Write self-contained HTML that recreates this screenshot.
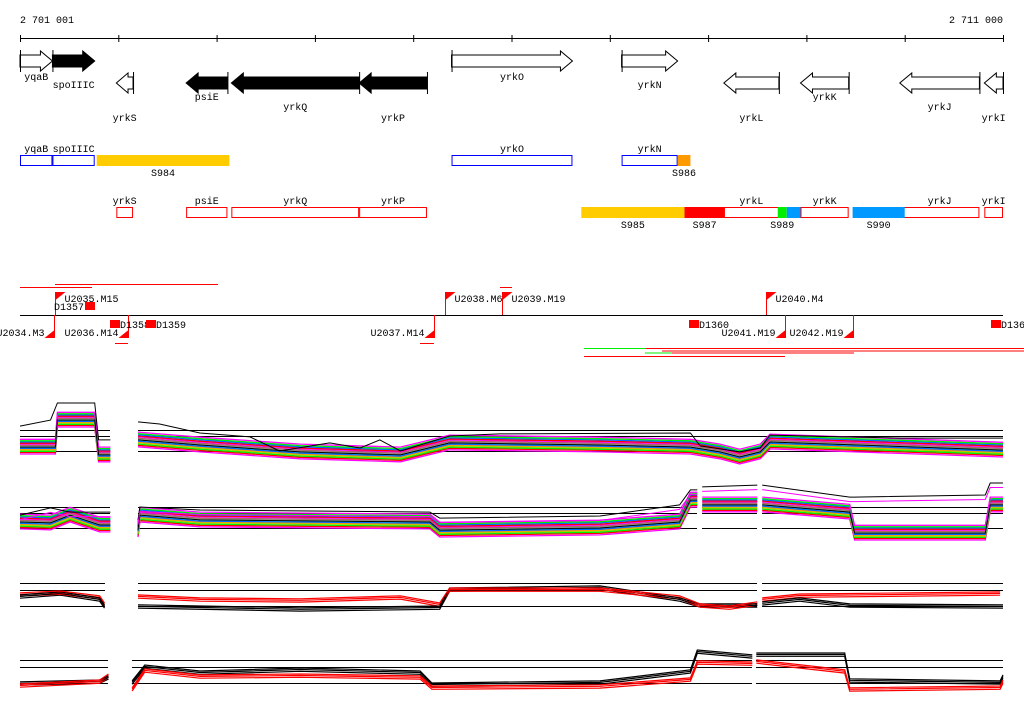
<!DOCTYPE html>
<html><head><meta charset="utf-8">
<style>
html,body{margin:0;padding:0;background:#fff;}
svg{display:block;}
text{font-family:"Liberation Mono","DejaVu Sans Mono",monospace;font-size:10px;fill:#000;}
</style></head>
<body>
<svg id="chart" width="1024" height="714" viewBox="0 0 1024 714" xmlns="http://www.w3.org/2000/svg"></svg>
<script>
// ---- data ----
const rulerTicksKb=[0,1,2,3,4,5,6,7,8,9,10];
const rulerLabels=["2 701 001","2 711 000"];
const geneNames=["yqaB","spoIIIC","yrkS","psiE","yrkQ","yrkP","yrkO","yrkN","yrkL","yrkK","yrkJ","yrkI"];
const geneStart=[0,0.33,0.98,1.69,2.15,3.45,4.39,6.12,7.16,7.94,8.95,9.81];
const geneEnd=[0.33,0.76,1.15,2.11,3.45,4.14,5.62,6.69,7.72,8.43,9.76,10];
const geneStrand=[1,1,-1,-1,-1,-1,1,1,-1,-1,-1,-1];
const geneBlack=[0,1,0,1,1,1,0,0,0,0,0,0];
const geneLabelLevel=[0,1,2,0,1,2,0,1,2,0,1,2];
const segNames=["S984","S986","S985","S987","S989","S990"];
const segStart=[0.78,6.69,5.71,6.76,7.71,8.47];
const segEnd=[2.13,6.82,6.76,7.17,7.80,9.0];
const segRow=[0,0,1,1,1,1];
const segColor=["#ffcc00","#ff9900","#ffcc00","#ff0000","#00ee00","#0099ff"];
const segLabel=[1,1,1,1,1,1];
const seg2Start=[7.80];const seg2End=[7.94];
const upFlagNames=["U2035.M15","U2038.M6","U2039.M19","U2040.M4"];
const upFlagKb=[0.36,4.32,4.9,7.59];
const downFlagNames=["U2034.M3","U2036.M14","U2037.M14","U2041.M19","U2042.M19"];
const downFlagKb=[0.35,1.10,4.21,7.78,8.47];
const dNames=["D1357","D1358","D1359","D1360","D1361"];
const dKb=[0.66,0.92,1.28,6.81,9.88];
const dUp=[1,0,0,0,0];
// line tracks (position kb, signal value; null = gap)
const aCenterKb=[0,0.36,0.38,0.76,0.8,0.92,null,1.2,1.83,2.85,3.87,4.37,5.9,6.82,7.12,7.32,7.53,7.63,10];
const aCenterVal=[1.3,1.3,10.3,10.3,-1.3,-1.3,null,3.7,2,-0.3,-1.3,2.7,2,1.3,-0.3,-2,-0.3,3,0.3];
const aTopKb=[0,0.31,0.38,0.76,0.8,0.92,null,1.2,1.42,1.83,2.34,2.64,3.15,3.46,3.66,3.87,4.37,4.88,6.82,6.92,7.32,7.53,7.63,8.95,10];
const aTopVal=[8.3,10.3,16,16,3.7,3.7,null,9.7,9,6,4.7,0,2.7,1,3.7,0,5,5.7,6,1.7,-0.3,1,5.3,4.3,4.3];
const bCenterKb=[0,0.31,0.51,0.81,0.92,null,1.2,1.22,1.83,4.17,4.27,5.9,6.71,6.82,6.89,null,6.94,7.5,null,7.55,8.44,8.49,9.82,9.87,10];
const bCenterVal=[2,1.7,4.3,1,1,null,-0.7,4.3,2.7,2,-0.7,0,2,9.3,9.3,null,7.7,7.7,null,7.7,5.3,-1.7,-1.7,7.7,7.7];
const bTopVal=[4.3,6.7,5.3,5.3,5.3,null,2.7,7,6,5.3,3.3,4,7.7,12.7,12.7,null,13.7,14.3,null,14.3,10.3,10.3,11,15,15];
const cRedKb=[0,0.41,0.81,0.86,null,1.2,1.83,2.85,3.87,4.27,4.37,5.9,6.71,6.92,7.22,7.5,null,7.55,7.93,9.97];
const cRedVal=[3.7,4.3,2.7,0.3,null,3,2,1.7,2.7,0.3,5.3,5.3,2.7,0,-0.7,0.7,null,2,3.3,4];
const cBlackKb=[0,0.41,0.81,0.86,null,1.2,2.85,4.27,4.37,5.9,6.71,6.92,7.5,null,7.55,7.93,8.44,10];
const cBlackVal=[3,4,2,-0.3,null,-0.3,-1.3,-0.7,5.3,6,2,0,0,null,0.7,2,0,-0.3];
const dLineKb=[0,0.81,0.9,null,1.14,1.27,1.83,2.85,4.07,4.19,5.9,6.82,6.89,7.45,null,7.49,8.39,8.44,9.97,10];
const dRedVal=[-1,0.3,2.3,null,-2.3,4,2,2.3,1.7,-1.7,-1.3,1,6.7,6.3,null,7,3.7,-2.3,-1.7,0.3];
const dBlackVal=[-0.3,0.3,1.7,null,0,5.3,3.3,4.3,3.3,-0.7,0,3.7,10.3,8.7,null,9.3,9.3,0.7,0,2];
const spreadOffsets=[-2.3,-1.8,-1.4,-1,-0.7,-0.4,0,0.3,0.6,1,1.3,1.7,2.1,2.6];
const spreadColors=["#ff00ff","#ff0000","#00ee00","#99dd00","#ff9900","#0066ff","#00dddd","#999999","#aa6666","#ff00ff","#ff0000","#0066ff","#00ee00","#ff00ff"];

// ---- drawing ----
const NS="http://www.w3.org/2000/svg";
const svg=document.getElementById('chart');
const X=kb=>20+kb*98.3;
function mk(tag,attrs,txt){const e=document.createElementNS(NS,tag);for(const k in attrs)e.setAttribute(k,attrs[k]);if(txt!==undefined)e.textContent=txt;svg.appendChild(e);return e;}

// ruler
let e=mk('line',{x1:X(0),x2:X(10),y1:38.5,y2:38.5,stroke:'#000'});

rulerTicksKb.forEach(k=>{const t=mk('line',{x1:X(k)+0.5,x2:X(k)+0.5,y1:35,y2:42,stroke:'#000'});
});
e=mk('text',{x:20,y:23},rulerLabels[0]);
e=mk('text',{x:1003,y:23,'text-anchor':'end'},rulerLabels[1]);

// gene arrows
geneNames.forEach((n,i)=>{
  const x1=X(geneStart[i]),x2=X(geneEnd[i]),fw=geneStrand[i]>0,yc=fw?61:83;
  const hl=Math.min(12,(x2-x1)*0.7);let pts;
  if(fw){pts=[[x1,yc-6],[x2-hl,yc-6],[x2-hl,yc-10],[x2,yc],[x2-hl,yc+10],[x2-hl,yc+6],[x1,yc+6]];}
  else{pts=[[x2,yc-6],[x1+hl,yc-6],[x1+hl,yc-10],[x1,yc],[x1+hl,yc+10],[x1+hl,yc+6],[x2,yc+6]];}
  const p=mk('polygon',{points:pts.map(q=>q.join(',')).join(' '),fill:geneBlack[i]?'#000':'#fff',stroke:'#000'});
  
  const vx=fw?x1:x2;
  const v=mk('line',{x1:vx+0.5,x2:vx+0.5,y1:yc-11,y2:yc+11,stroke:'#000'});
  
  const ly=fw?[77,85][geneLabelLevel[i]%2]:[97,107,118][geneLabelLevel[i]];
  const t=mk('text',{x:(x1+x2)/2,y:ly+3,'text-anchor':'middle'},n);
  
  // box rows
  const by=fw?155:207;
  const b=mk('rect',{x:x1+0.5,y:by+0.5,width:x2-x1-1,height:10,fill:'#fff',stroke:fw?'#0000ff':'#ff0000'});
  
  const bt=mk('text',{x:(x1+x2)/2,y:by-3,'text-anchor':'middle'},n);
  
});
// segments
segNames.forEach((n,i)=>{
  const x1=X(segStart[i]),x2=X(segEnd[i]),by=segRow[i]?207:155;
  const r=mk('rect',{x:x1,y:by,width:x2-x1,height:11,fill:segColor[i]});
  
  const t=mk('text',{x:(x1+x2)/2,y:by+21,'text-anchor':'middle'},n);
  
});
e=mk('rect',{x:X(seg2Start[0]),y:207,width:X(seg2End[0])-X(seg2Start[0]),height:11,fill:'#0099ff'});


// features track
e=mk('line',{x1:20,x2:1003,y1:315.5,y2:315.5,stroke:'#000'});
[[20,92,287],[55,218,284],[500,512,287],[115,128,343],[420,434,343]].forEach(s=>{const l=mk('line',{x1:s[0],x2:s[1],y1:s[2]+0.5,y2:s[2]+0.5,stroke:'#ff0000'});
});
[[584,646,348,'#00ee00'],[646,1024,348,'#ff0000'],[662,1024,350.5,'#ff0000'],[645,672,352.5,'#00ee00'],[672,854,352.5,'#ff0000'],[584,785,356,'#ff0000']].forEach(s=>{
const l=mk('line',{x1:s[0],x2:s[1],y1:s[2]+0.5,y2:s[2]+0.5,stroke:s[3]});
});
upFlagNames.forEach((n,i)=>{const x=Math.round(X(upFlagKb[i]))+0.5;
  const l=mk('path',{d:`M${x},315V292`,stroke:'#ff0000'});
  const f=mk('polygon',{points:`${x},292 ${x+10},292 ${x},300`,fill:'#ff0000'});
  const t=mk('text',{x:x+9,y:302},n);});
downFlagNames.forEach((n,i)=>{const x=Math.round(X(downFlagKb[i]))+0.5;
  const l=mk('path',{d:`M${x},315V338`,stroke:'#ff0000'});
  const f=mk('polygon',{points:`${x},330 ${x},338 ${x-10},338`,fill:'#ff0000'});
  const t=mk('text',{x:x-10,y:336,'text-anchor':'end'},n);});
dNames.forEach((n,i)=>{const x=Math.round(X(dKb[i]));const y=dUp[i]?302:320;
  const r=mk('rect',{x:x,y:y,width:10,height:8,fill:'#ff0000'});
  const t=mk('text',{x:dUp[i]?x-1:x+10,y:y+8,'text-anchor':dUp[i]?'end':'start'},n);});

// line tracks
function pathFrom(kbs,vals,base,k,off){let d='',pen=false;
  for(let i=0;i<kbs.length;i++){if(kbs[i]===null||vals[i]===null){pen=false;continue;}
    const x=X(kbs[i]).toFixed(1),y=(base-(vals[i]+off)*k).toFixed(1);d+=(pen?'L':'M')+x+','+y;pen=true;}return d;}
function refLines(ys,segs,name){ys.forEach(y=>segs.forEach(s=>{const l=mk('line',{x1:s[0],x2:s[1],y1:y+0.5,y2:y+0.5,stroke:'#000'});
  }));}
function spreadTrack(kbs,center,top,base,name){
  spreadOffsets.forEach((o,j)=>{const p=mk('path',{d:pathFrom(kbs,center,base,3,o),fill:'none',stroke:spreadColors[j],'stroke-width':1.3});
    });
  const p=mk('path',{d:pathFrom(kbs,center,base,3,0),fill:'none',stroke:'#000','stroke-width':1});
  
}
refLines([430,436,451],[[20,110],[138,1003]],'track-a');
spreadTrack(aCenterKb,aCenterVal,null,451,'track-a');
e=mk('path',{d:pathFrom(aTopKb,aTopVal,451,3,0),fill:'none',stroke:'#000'});
refLines([507,513,528],[[20,110],[138,697],[702,757],[762,1003]],'track-b');
spreadTrack(bCenterKb,bCenterVal,null,528,'track-b');
e=mk('path',{d:pathFrom(bCenterKb,bTopVal,528,3,0),fill:'none',stroke:'#000'});
e=mk('path',{d:pathFrom(bCenterKb,bTopVal,528,3,-1.5),fill:'none',stroke:'#ff00ff'});
refLines([583,590,606],[[20,105],[138,757],[762,1003]],'track-c');
[-0.4,0.2,0.7].forEach(o=>{
  let p=mk('path',{d:pathFrom(cBlackKb,cBlackVal,606,3,o),fill:'none',stroke:'#000','stroke-width':1.2});
  p=mk('path',{d:pathFrom(cRedKb,cRedVal,606,3,o),fill:'none',stroke:'#ff0000','stroke-width':1.2});});
refLines([660,667,683],[[20,108],[132,752],[756,1003]],'track-d');
[-0.4,0.2,0.7].forEach(o=>{
  let p=mk('path',{d:pathFrom(dLineKb,dBlackVal,683,3,o),fill:'none',stroke:'#000','stroke-width':1.2});
  p=mk('path',{d:pathFrom(dLineKb,dRedVal,683,3,o),fill:'none',stroke:'#ff0000','stroke-width':1.2});});
</script>
</body></html>
